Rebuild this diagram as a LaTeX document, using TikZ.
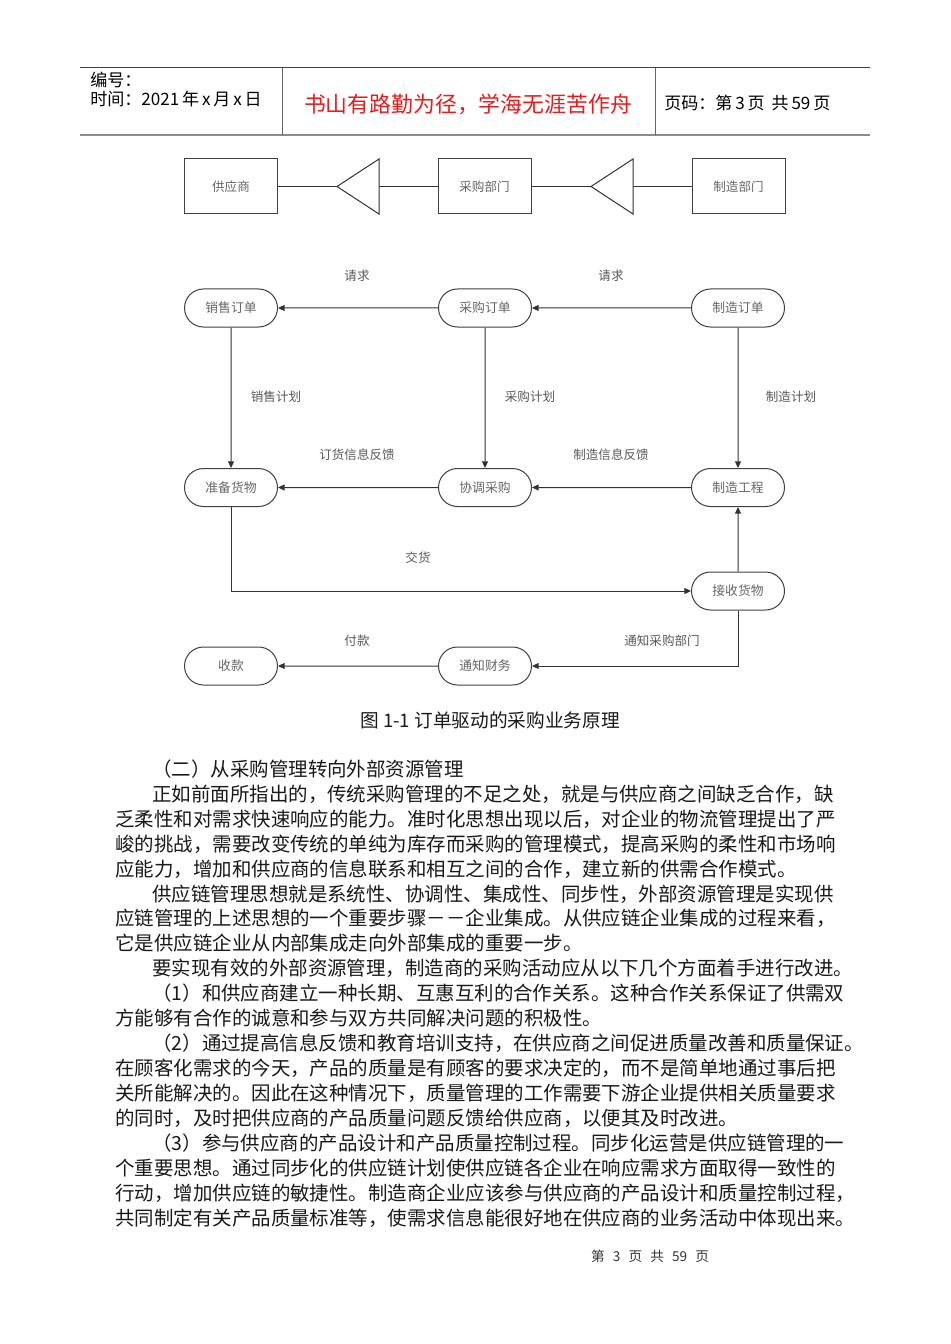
\documentclass[tikz,border=0pt]{standalone}
\usepackage{fontspec}
\setmainfont{Noto Sans CJK SC}
\usetikzlibrary{shapes.misc,arrows.meta}
\begin{document}
\begin{tikzpicture}[x=0.75pt,y=-0.75pt,
  box/.style={draw=black!75, line width=0.75pt, minimum width=93*0.75pt, minimum height=55*0.75pt, inner sep=0pt, font=\fontsize{9.4}{10}\selectfont, text=black!60},
  pill/.style={rounded rectangle, draw=black!75, line width=0.75pt, minimum width=93*0.75pt, minimum height=38*0.75pt, inner sep=0pt, font=\fontsize{9.6}{10}\selectfont, text=black!60},
  conn/.style={draw=black!80, line width=0.75pt},
  arr/.style={conn, -{Triangle[length=5pt,width=4.5pt]}},
  lbl/.style={inner sep=0pt, font=\fontsize{9.4}{10}\selectfont, text=black!65},
  body/.style={anchor=west, inner sep=0pt, font=\fontsize{14.6}{15}\selectfont, text=black!90},
  hdr/.style={anchor=west, inner sep=0pt, font=\fontsize{12.8}{13}\selectfont, text=black}
]
\useasboundingbox[fill=white] (0,0) rectangle (950,1344);

% header
\draw[black!75, line width=0.75pt] (80,68) -- (870,68);
\draw[black!45, line width=1.6pt] (80,135) -- (870,135);
\draw[black!60, line width=0.6pt] (282,68) -- (282,135);
\draw[black!60, line width=0.6pt] (655,68) -- (655,135);
\node[hdr] (h1) at (90,80) {编号：};
\node[hdr] (h2) at (90,99) {时间：2021\,年\,x\,月\,x\,日};
\node[anchor=center, inner sep=0pt, font=\fontsize{16.4}{17}\selectfont, text={rgb,255:red,225;green,30;blue,30}] (h3) at (468,104) {书山有路勤为径，学海无涯苦作舟};
\node[hdr] (h4) at (664,103) {页码：第\,3\,页\hspace{0.4em}共\,59\,页};

% top diagram
\node[box] (sup) at (231,186.5) {供应商};
\node[box] (dep) at (484.5,186.5) {采购部门};
\node[box] (mfd) at (738.5,186.5) {制造部门};
\coordinate (t1a) at (337,186.5);
\coordinate (t1b) at (379,186.5);
\coordinate (t2a) at (591,186.5);
\coordinate (t2b) at (633,186.5);
\draw[conn] (t1a) -- (379,159) -- (379,214) -- cycle;
\draw[conn] (t2a) -- (633,159) -- (633,214) -- cycle;
\draw[conn] (sup.east) -- (t1a);
\draw[conn] (t1b) -- (dep.west);
\draw[conn] (dep.east) -- (t2a);
\draw[conn] (t2b) -- (mfd.west);

% main diagram
\node[pill] (so) at (231,308) {销售订单};
\node[pill] (po) at (485,308) {采购订单};
\node[pill] (mo) at (738,308) {制造订单};
\node[pill] (pg) at (231,487.5) {准备货物};
\node[pill] (cp) at (485,487.5) {协调采购};
\node[pill] (me) at (738,487.5) {制造工程};
\node[pill] (rg) at (738,591) {接收货物};
\node[pill] (sk) at (231,666) {收款};
\node[pill] (nf) at (485,666) {通知财务};

\draw[arr] (po) -- (so);
\draw[arr] (mo) -- (po);
\draw[arr] (so) -- (pg);
\draw[arr] (po) -- (cp);
\draw[arr] (mo) -- (me);
\draw[arr] (me) -- (cp);
\draw[arr] (cp) -- (pg);
\draw[arr] (pg.south) |- (rg.west);
\draw[arr] (rg) -- (me);
\draw[arr] (rg.south) |- (nf.east);
\draw[arr] (nf) -- (sk);

\node[lbl] (l1) at (357,276) {请求};
\node[lbl] (l2) at (611,276) {请求};
\node[lbl] (l3) at (276,397) {销售计划};
\node[lbl] (l4) at (530,397) {采购计划};
\node[lbl] (l5) at (791,397) {制造计划};
\node[lbl] (l6) at (357,455) {订货信息反馈};
\node[lbl] (l7) at (611,455) {制造信息反馈};
\node[lbl] (l8) at (418,558) {交货};
\node[lbl] (l9) at (357,641) {付款};
\node[lbl] (l10) at (662,641) {通知采购部门};

% caption
\node[inner sep=0pt, font=\fontsize{14}{15}\selectfont, text=black!90] (cap) at (490,720) {图 1-1 订单驱动的采购业务原理};

% body text
\node[body] (b1) at (152,769) {（二）从采购管理转向外部资源管理};
\node[body] (b2) at (152,794) {正如前面所指出的，传统采购管理的不足之处，就是与供应商之间缺乏合作，缺};
\node[body] (b3) at (115,819) {乏柔性和对需求快速响应的能力。准时化思想出现以后，对企业的物流管理提出了严};
\node[body] (b4) at (115,844) {峻的挑战，需要改变传统的单纯为库存而采购的管理模式，提高采购的柔性和市场响};
\node[body] (b5) at (115,869) {应能力，增加和供应商的信息联系和相互之间的合作，建立新的供需合作模式。};
\node[body] (b6) at (152,894) {供应链管理思想就是系统性、协调性、集成性、同步性，外部资源管理是实现供};
\node[body] (b7) at (115,918) {应链管理的上述思想的一个重要步骤－－企业集成。从供应链企业集成的过程来看，};
\node[body] (b8) at (115,943) {它是供应链企业从内部集成走向外部集成的重要一步。};
\node[body] (b9) at (152,968) {要实现有效的外部资源管理，制造商的采购活动应从以下几个方面着手进行改进。};
\node[body] (b10) at (152,993) {（1）和供应商建立一种长期、互惠互利的合作关系。这种合作关系保证了供需双};
\node[body] (b11) at (115,1018) {方能够有合作的诚意和参与双方共同解决问题的积极性。};
\node[body] (b12) at (152,1043) {（2）通过提高信息反馈和教育培训支持，在供应商之间促进质量改善和质量保证。};
\node[body] (b13) at (115,1068) {在顾客化需求的今天，产品的质量是有顾客的要求决定的，而不是简单地通过事后把};
\node[body] (b14) at (115,1093) {关所能解决的。因此在这种情况下，质量管理的工作需要下游企业提供相关质量要求};
\node[body] (b15) at (115,1118) {的同时，及时把供应商的产品质量问题反馈给供应商，以便其及时改进。};
\node[body] (b16) at (152,1143) {（3）参与供应商的产品设计和产品质量控制过程。同步化运营是供应链管理的一};
\node[body] (b17) at (115,1168) {个重要思想。通过同步化的供应链计划使供应链各企业在响应需求方面取得一致性的};
\node[body] (b18) at (115,1193) {行动，增加供应链的敏捷性。制造商企业应该参与供应商的产品设计和质量控制过程，};
\node[body] (b19) at (115,1218) {共同制定有关产品质量标准等，使需求信息能很好地在供应商的业务活动中体现出来。};

% footer
\node[inner sep=0pt, font=\fontsize{10.2}{11}\selectfont, text=black!80] (ft) at (650,1256) {第\hspace{0.6em}3\hspace{0.6em}页\hspace{0.6em}共\hspace{0.6em}59\hspace{0.6em}页};
\end{tikzpicture}
\end{document}
